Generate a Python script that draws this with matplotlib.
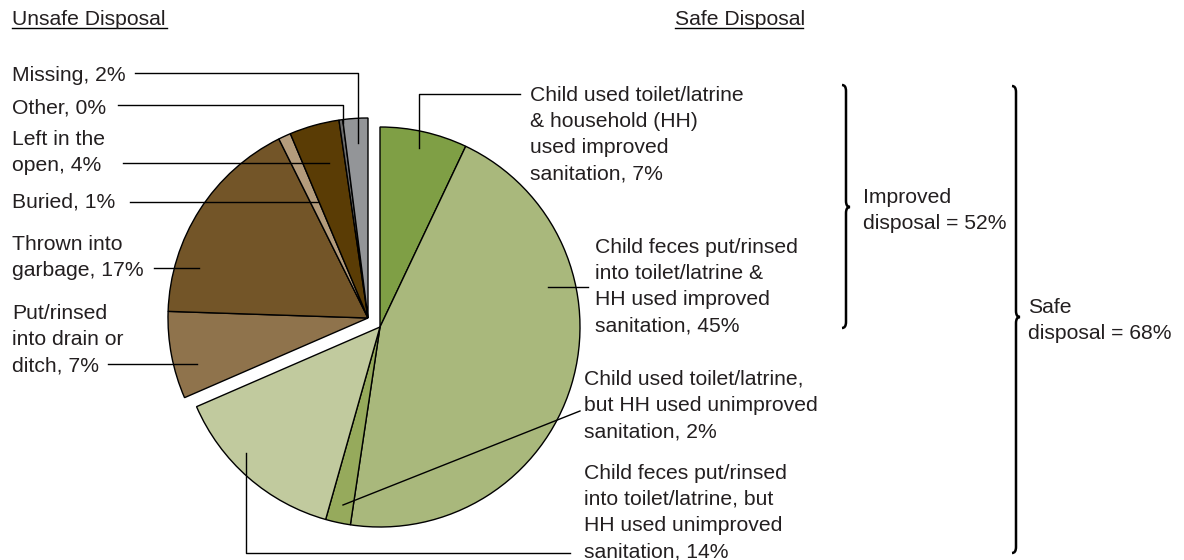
import matplotlib.pyplot as plt
from matplotlib.path import Path
from matplotlib.patches import PathPatch

plt.rcParams['font.family'] = ['Liberation Sans', 'DejaVu Sans']

# slices clockwise from 12 o'clock: safe first, then unsafe
safe_labels = ['Child used toilet/latrine\n& household (HH)\nused improved\nsanitation, 7%',
               'Child feces put/rinsed\ninto toilet/latrine &\nHH used improved\nsanitation, 45%',
               'Child used toilet/latrine,\nbut HH used unimproved\nsanitation, 2%',
               'Child feces put/rinsed\ninto toilet/latrine, but\nHH used unimproved\nsanitation, 14%']
safe_values = [7, 45, 2, 14]
safe_colors = ['#7f9f45', '#a9b87c', '#96aa5c', '#c1ca9e']

unsafe_labels = ['Put/rinsed\ninto drain or\nditch, 7%', 'Thrown into\ngarbage, 17%',
                 'Buried, 1%', 'Left in the\nopen, 4%', 'Other, 0%', 'Missing, 2%']
unsafe_values = [7, 17, 1, 4, 0.3, 2]
unsafe_colors = ['#8f734c', '#735528', '#b49c7c', '#5a3c05', '#6b6b6b', '#939598']

improved_note = 'Improved\ndisposal = 52%'
safe_note = 'Safe\ndisposal = 68%'

W, H = 1184, 560
LINE_H = 26  # baseline-to-baseline, pixels
fig = plt.figure(figsize=(W / 100, H / 100), dpi=100)
ax = fig.add_axes([0, 0, 1, 1])


def Y(y):
    # image row -> data y
    return H - y


wedges, _ = ax.pie(safe_values + unsafe_values, colors=safe_colors + unsafe_colors,
                   startangle=90, counterclock=False, center=(380, Y(327)), radius=200,
                   wedgeprops=dict(edgecolor='black', linewidth=1), frame=True)
ax.set_xlim(0, W)
ax.set_ylim(0, H)
ax.axis('off')
# pull the unsafe group out as one block
for w in wedges[len(safe_values):]:
    w.set_center((368, Y(318)))

line = dict(color='black', linewidth=1)


def label(x, y_first, s):
    # multi-line text is placed by the baseline of its last line
    y_last = y_first + LINE_H * s.count('\n')
    ax.text(x, Y(y_last), s, fontsize=15.2, color='#231f20', va='baseline', ha='left',
            linespacing=1.47)


# headers
label(12, 25, 'Unsafe Disposal')
ax.plot([12, 167], [Y(28), Y(28)], **line)
label(675, 25, 'Safe Disposal')
ax.plot([675, 803], [Y(28), Y(28)], **line)

# unsafe labels and leaders
label(12, 319, unsafe_labels[0])
ax.plot([108, 197], [Y(364), Y(364)], **line)
label(12, 250, unsafe_labels[1])
ax.plot([154, 199], [Y(268), Y(268)], **line)
label(12, 208, unsafe_labels[2])
ax.plot([130, 318], [Y(202), Y(202)], **line)
label(12, 145, unsafe_labels[3])
ax.plot([123, 329], [Y(163), Y(163)], **line)
label(12, 113, unsafe_labels[4])
ax.plot([118, 343, 343], [Y(105), Y(105), Y(123)], **line)
label(12, 81, unsafe_labels[5])
ax.plot([135, 358, 358], [Y(73), Y(73), Y(143)], **line)

# safe labels and leaders
label(530, 101, safe_labels[0])
ax.plot([520, 419, 419], [Y(94), Y(94), Y(148)], **line)
label(595, 253, safe_labels[1])
ax.plot([548, 588], [Y(287), Y(287)], **line)
label(584, 385, safe_labels[2])
ax.plot([580, 343], [Y(411), Y(505)], **line)
label(584, 479, safe_labels[3])
ax.plot([246, 246, 570], [Y(453), Y(553), Y(553)], **line)


def brace(x, ytop, ybot, ytip, w):
    xm = x + w * 0.5
    r = 6
    verts = [(x, ytop), (xm, ytop), (xm, ytop - r),
             (xm, ytip + r), (xm, ytip), (x + w, ytip),
             (xm, ytip), (xm, ytip - r),
             (xm, ybot + r), (xm, ybot), (x, ybot)]
    codes = [Path.MOVETO, Path.CURVE3, Path.CURVE3,
             Path.LINETO, Path.CURVE3, Path.CURVE3,
             Path.CURVE3, Path.CURVE3,
             Path.LINETO, Path.CURVE3, Path.CURVE3]
    ax.add_patch(PathPatch(Path(verts, codes), fill=False, edgecolor='black', linewidth=1.8))


brace(842, Y(85), Y(328), Y(207), 8)
label(863, 203, improved_note)
brace(1012, Y(86), Y(553), Y(317), 8)
label(1028, 313, safe_note)

fig.savefig('out.png', dpi=100)
